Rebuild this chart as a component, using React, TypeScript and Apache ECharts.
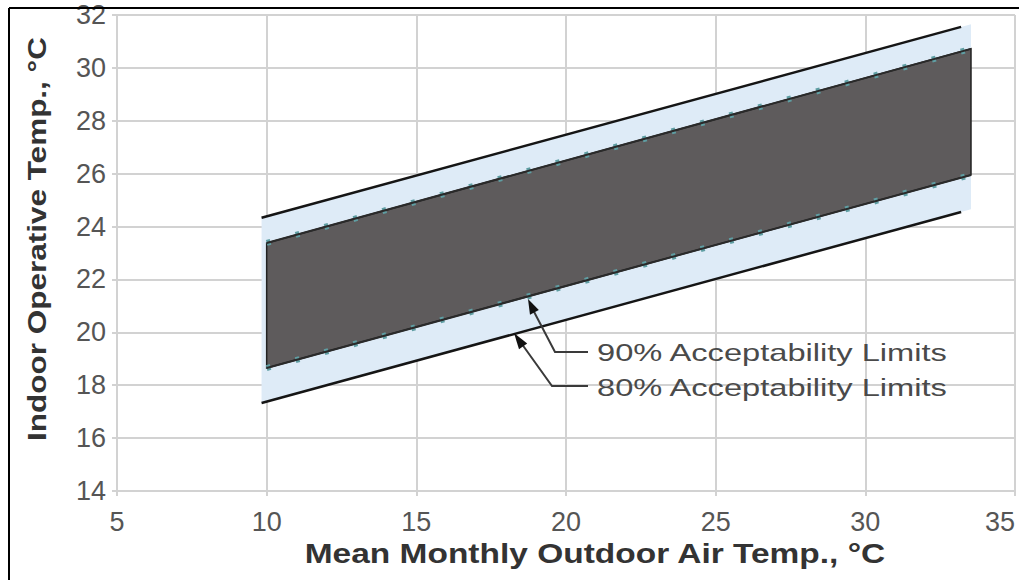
import React, { useEffect, useRef } from "react";
import * as echarts from "echarts";

// Tick ranges
const xTicks = [5, 10, 15, 20, 25, 30, 35];
const yTicks = [14, 16, 18, 20, 22, 24, 26, 28, 30, 32];

// Acceptability limit lines [outdoor temp, indoor operative temp]
const upper80 = [[9.83, 24.33], [33.2, 31.55]];
const lower80 = [[9.83, 17.33], [33.2, 24.55]];
const upper90 = [[10, 23.38], [33.53, 30.72]];
const lower90 = [[10, 18.65], [33.53, 25.95]];

// Filled bands (polygons)
const band80 = [[9.83, 17.33], [33.53, 24.65], [33.53, 31.65], [9.83, 24.33]];
const band90 = [[10, 18.65], [33.53, 25.95], [33.53, 30.72], [10, 23.38]];

const labels90 = "90% Acceptability Limits";
const labels80 = "80% Acceptability Limits";
const xName = "Mean Monthly Outdoor Air Temp., °C";
const yName = "Indoor Operative Temp., °C";

const FONT = "'Liberation Sans', Arial, Helvetica, sans-serif";

function polySeries(points: number[][], fill: string, stroke: string, z: number) {
  return {
    type: "custom",
    z,
    silent: true,
    data: [0],
    renderItem: (_params: any, api: any) => ({
      type: "polygon",
      shape: { points: points.map((p) => api.coord(p)) },
      style: { fill, stroke, lineWidth: stroke === "none" ? 0 : 1.5 },
    }),
  };
}

function lineSeries(data: number[][], color: string, width: number, z: number, type: any = "solid") {
  return {
    type: "line",
    data,
    z,
    silent: true,
    symbol: "none",
    lineStyle: { color, width, type, cap: "butt" },
  };
}

export default function App() {
  const ref = useRef<HTMLDivElement>(null);
  useEffect(() => {
    const chart = echarts.init(ref.current!, undefined, { renderer: "svg" });
    const gridColor = "#d2d2d2";
    const option: any = {
      animation: false,
      backgroundColor: "#ffffff",
      grid: { left: 117, right: 4, top: 15, bottom: 89, containLabel: false },
      xAxis: {
        type: "value",
        min: xTicks[0],
        max: xTicks[xTicks.length - 1],
        interval: 5,
        axisLine: { show: true, lineStyle: { color: gridColor, width: 2 } },
        axisTick: { show: true, length: 5, lineStyle: { color: gridColor, width: 2 } },
        splitLine: { show: true, lineStyle: { color: gridColor, width: 2 } },
        axisLabel: { color: "#555", fontSize: 27, fontFamily: FONT, margin: 17, alignMaxLabel: "right" },
      },
      yAxis: {
        type: "value",
        min: yTicks[0],
        max: yTicks[yTicks.length - 1],
        interval: 2,
        axisLine: { show: true, lineStyle: { color: gridColor, width: 2 } },
        axisTick: { show: true, length: 5, lineStyle: { color: gridColor, width: 2 } },
        splitLine: { show: true, lineStyle: { color: gridColor, width: 2 } },
        axisLabel: { color: "#555", fontSize: 27, fontFamily: FONT, margin: 11 },
      },
      series: [
        polySeries(band80, "#deebf7", "none", 1),
        polySeries(band90, "#5e5b5c", "#222", 2),
        lineSeries(upper90, "#5f9ea3", 6, 3, [4, 26]),
        lineSeries(lower90, "#5f9ea3", 6, 3, [4, 26]),
        lineSeries(upper90, "#2a2a2a", 2, 4),
        lineSeries(lower90, "#2a2a2a", 2, 4),
        lineSeries(upper80, "#151515", 2.5, 5),
        lineSeries(lower80, "#151515", 2.5, 5),
      ],
      graphic: [
        // frame
        { type: "line", shape: { x1: 9, y1: 8, x2: 1019, y2: 8 }, style: { stroke: "#000", lineWidth: 2 }, z: 100 },
        { type: "line", shape: { x1: 9, y1: 8, x2: 9, y2: 580 }, style: { stroke: "#000", lineWidth: 2 }, z: 100 },
        // axis names
        {
          type: "text",
          x: 595,
          y: 553,
          scaleX: 1.24,
          style: { text: xName, font: `bold 27px ${FONT}`, fill: "#333", align: "center", verticalAlign: "middle" },
          z: 100,
        },
        {
          type: "text",
          x: 37,
          y: 239,
          rotation: Math.PI / 2,
          scaleX: 1.26,
          style: { text: yName, font: `bold 25px ${FONT}`, fill: "#333", align: "center", verticalAlign: "middle" },
          z: 100,
        },
        // annotation leaders
        {
          type: "polyline",
          shape: { points: [[588, 352], [555, 352], [531, 306]] },
          style: { stroke: "#3a3a3a", lineWidth: 2, fill: "none" },
          z: 100,
        },
        {
          type: "polygon",
          shape: { points: [[528, 299], [538.8, 310.1], [530, 314.7]] },
          style: { fill: "#111" },
          z: 100,
        },
        {
          type: "polyline",
          shape: { points: [[588, 386], [552, 386], [519, 340]] },
          style: { stroke: "#3a3a3a", lineWidth: 2, fill: "none" },
          z: 100,
        },
        {
          type: "polygon",
          shape: { points: [[514, 333], [527.2, 343.5], [519, 349.3]] },
          style: { fill: "#111" },
          z: 100,
        },
        {
          type: "text",
          x: 597,
          y: 353,
          scaleX: 1.36,
          style: { text: labels90, font: `24px ${FONT}`, fill: "#4a4a4a", align: "left", verticalAlign: "middle" },
          z: 100,
        },
        {
          type: "text",
          x: 597,
          y: 388,
          scaleX: 1.36,
          style: { text: labels80, font: `24px ${FONT}`, fill: "#4a4a4a", align: "left", verticalAlign: "middle" },
          z: 100,
        },
      ],
    };
    chart.setOption(option);
    return () => chart.dispose();
  }, []);
  return <div ref={ref} style={{ position: "absolute", left: 0, top: 0, width: 1019, height: 580 }} />;
}
